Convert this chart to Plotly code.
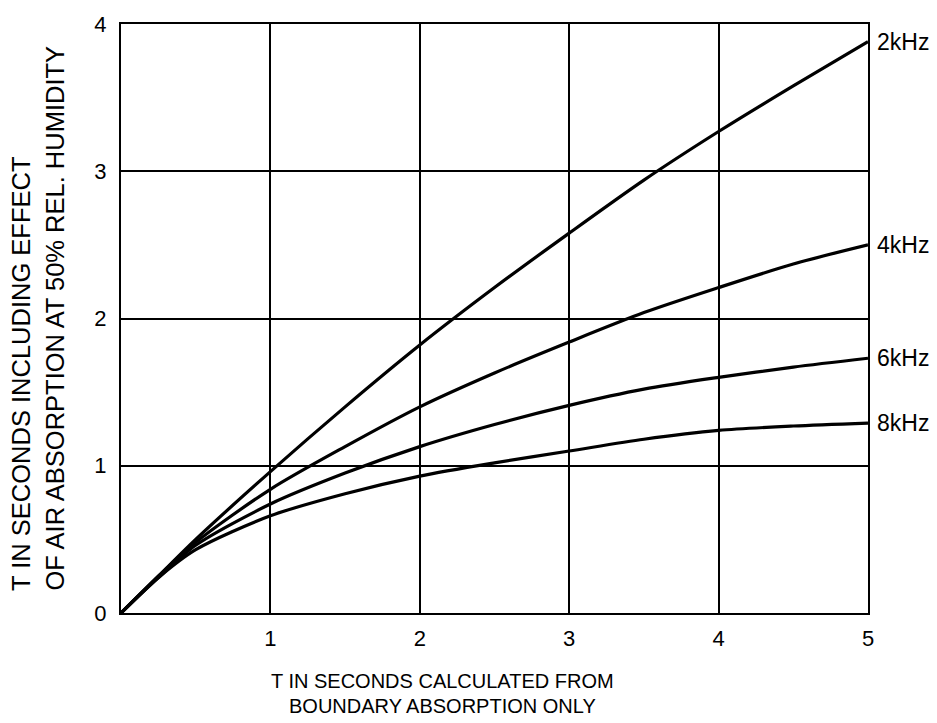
import plotly.graph_objects as go

x_vals = [0, 0.25, 0.5, 1, 1.5, 2, 2.5, 3, 3.5, 4, 4.5, 5]
y_2k = [0, 0.25, 0.50, 0.96, 1.40, 1.82, 2.21, 2.58, 2.94, 3.27, 3.58, 3.88]
y_4k = [0, 0.25, 0.48, 0.84, 1.13, 1.40, 1.63, 1.84, 2.04, 2.21, 2.37, 2.50]
y_6k = [0, 0.24, 0.46, 0.74, 0.95, 1.13, 1.28, 1.41, 1.52, 1.60, 1.67, 1.73]
y_8k = [0, 0.24, 0.43, 0.66, 0.81, 0.93, 1.02, 1.10, 1.18, 1.24, 1.27, 1.29]
series_names = ["2kHz", "4kHz", "6kHz", "8kHz"]
series_vals = [y_2k, y_4k, y_6k, y_8k]
x_ticks = [1, 2, 3, 4, 5]
y_ticks = [0, 1, 2, 3, 4]
y_title_lines = ["T IN SECONDS INCLUDING EFFECT", "OF AIR ABSORPTION AT 50% REL. HUMIDITY"]
x_title_lines = ["T IN SECONDS CALCULATED FROM", "BOUNDARY ABSORPTION ONLY"]

FONT = "Liberation Sans, Arial, sans-serif"

fig = go.Figure()
for name, ys in zip(series_names, series_vals):
    fig.add_trace(go.Scatter(x=x_vals, y=ys, mode="lines", name=name,
                             line=dict(color="black", width=3.2, shape="spline", smoothing=0.8),
                             showlegend=False, hoverinfo="skip"))
    fig.add_annotation(x=5, y=ys[-1], text=name, showarrow=False, xanchor="left",
                       yanchor="middle", xshift=7, font=dict(size=23, color="black", family=FONT))

for i, line in enumerate(y_title_lines):
    fig.add_annotation(xref="paper", yref="paper", x=0, y=0, xshift=-100 + 33 * i, yshift=20,
                       text=line, textangle=-90, showarrow=False,
                       xanchor="center", yanchor="bottom",
                       font=dict(size=25.5, color="black", family=FONT))
for i, line in enumerate(x_title_lines):
    fig.add_annotation(xref="paper", yref="paper", x=0.431, y=0, yshift=-68 - 25 * i,
                       text=line, showarrow=False, xanchor="center", yanchor="middle",
                       font=dict(size=20, color="black", family=FONT))

fig.update_xaxes(range=[0, 5], tickvals=x_ticks, ticktext=[str(v) for v in x_ticks],
                 showgrid=True, gridcolor="black", gridwidth=2,
                 showline=True, linecolor="black", linewidth=2, mirror=True,
                 zeroline=False, ticks="", tickfont=dict(size=22, color="black", family=FONT),
                 ticklabelstandoff=5)
fig.update_yaxes(range=[0, 4], tickvals=y_ticks, ticktext=[str(v) for v in y_ticks],
                 showgrid=True, gridcolor="black", gridwidth=2,
                 showline=True, linecolor="black", linewidth=2, mirror=True,
                 zeroline=False, ticks="", tickfont=dict(size=22, color="black", family=FONT),
                 ticklabelstandoff=8)

fig.update_layout(width=937, height=723, margin=dict(l=121, r=69, t=21, b=110),
                  plot_bgcolor="white", paper_bgcolor="white")

fig.write_html("out.html", config={"displayModeBar": False},
               post_script="document.body.style.margin='0px';")
